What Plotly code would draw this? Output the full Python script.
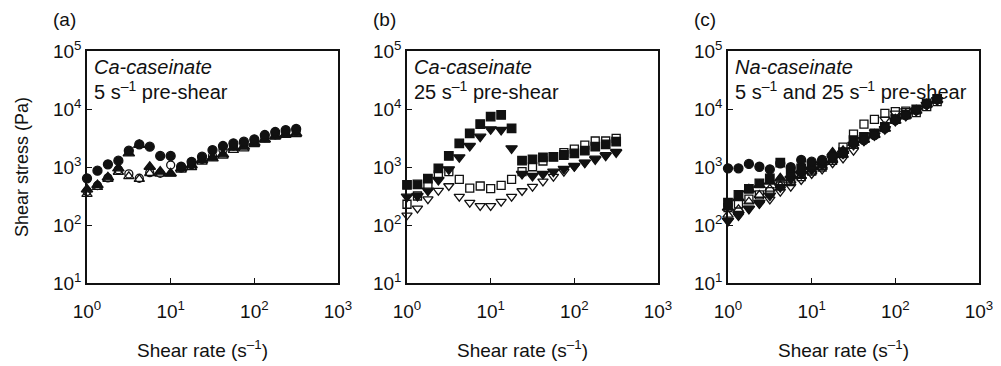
import plotly.graph_objects as go

# shear rates: 8 points per decade from 1 to ~316 s^-1
shear_rate = [1.0, 1.334, 1.778, 2.371, 3.162, 4.217, 5.623, 7.499, 10.0, 13.34, 17.78,
              23.71, 31.62, 42.17, 56.23, 74.99, 100.0, 133.4, 177.8, 237.1, 316.2]

# (a) Ca-caseinate, 5 s^-1 pre-shear
a_filled_circle = [638, 863, 1114, 1285, 1910, 2460, 2240, 1550, 1550, 1010, 1230, 1508, 1960, 2300, 2560, 2730, 3000, 3560, 4010, 4340, 4520]
a_open_circle = [380, 480, 650, 900, 760, 640, 800, 780, 1080, 960, 1100, 1350, 1550, 1960, 2300, 2500, 2800, 3200, 3600, 3950, 4150]
a_filled_tri = [412, 490, 664, 950, 1720, 2400, 1010, 830, 776, 950, 1080, 1320, 1410, 1655, 2150, 2240, 2620, 3000, 3420, 3700, 3800]
a_open_tri = [340, 450, 620, 820, 690, 620, 780, 760, 760, 890, 990, 1230, 1480, 1560, 1960, 2080, 2450, 2950, 3300, 3550, 3650]

# (b) Ca-caseinate, 25 s^-1 pre-shear
b_filled_square = [490, 500, 630, 950, 1550, 2560, 3800, 5500, 7380, 7890, 4650, 1285, 1357, 1470, 1500, 1610, 1720, 1910, 2240, 2460, 2730]
b_filled_tridown = [308, 316, 390, 597, 912, 1470, 2300, 3330, 4470, 4350, 2100, 757, 700, 757, 830, 925, 1040, 1190, 1357, 1570, 1790]
b_open_square = [228, 316, 470, 728, 830, 614, 434, 470, 423, 483, 614, 830, 1010, 1270, 1508, 1770, 2040, 2390, 2810, 2810, 3120]
b_open_tridown = [147, 194, 280, 390, 470, 308, 243, 213, 213, 252, 308, 386, 458, 566, 680, 830, 1010, 1190, 1410, 1610, 1840]

# (c) Na-caseinate, 5 s^-1 and 25 s^-1 pre-shear
c_filled_circle = [950, 950, 1130, 1010, 912, 1160, 990, 1320, 1235, 1320, 1510, 1720, 2560, 2900, 3560, 4650, 6460, 7880, 9620, 12200, 14800]
c_filled_square = [243, 330, 420, 520, 638, 1190, 800, 950, 1040, 1150, 1450, 1800, 2900, 3300, 3800, 4900, 6700, 8000, 9800, 12500, 15000]
c_filled_tri = [200, 290, 412, 490, 560, 638, 728, 880, 1000, 1200, 1770, 1900, 2600, 3000, 3600, 4600, 6300, 7700, 9400, 12000, 14500]
c_open_tri = [150, 187, 252, 329, 420, 480, 580, 700, 830, 1000, 1300, 1600, 2300, 2900, 3700, 5000, 6800, 8200, 9500, 11800, 14000]
c_open_square = [200, 230, 280, 330, 376, 470, 560, 680, 850, 1000, 1300, 2200, 3700, 5500, 6600, 8400, 9000, 9200, 8650, 11000, 13400]
c_open_tridown = [118, 143, 194, 230, 277, 376, 458, 597, 757, 912, 1160, 1410, 1910, 2800, 4000, 6640, 8420, 9250, 9500, 11500, 14000]
c_filled_tridown = [118, 150, 189, 240, 320, 450, 617, 750, 900, 1100, 1400, 1700, 2400, 2900, 3500, 4500, 6200, 7600, 9300, 11800, 14200]

x_tickvals = [1, 10, 100, 1000]
x_ticktext = ["10<sup>0</sup>", "10<sup>1</sup>", "10<sup>2</sup>", "10<sup>3</sup>"]
y_tickvals = [10, 100, 1000, 10000, 100000]
y_ticktext = ["10<sup>1</sup>", "10<sup>2</sup>", "10<sup>3</sup>", "10<sup>4</sup>", "10<sup>5</sup>"]

panel_labels = ["(a)", "(b)", "(c)"]
panel_titles = ["Ca-caseinate", "Ca-caseinate", "Na-caseinate"]
panel_sub = ["5 s<sup>–1</sup> pre-shear", "25 s<sup>–1</sup> pre-shear",
             "5 s<sup>–1</sup> and 25 s<sup>–1</sup> pre-shear"]
x_title = "Shear rate (s<sup>–1</sup>)"
y_title = "Shear stress (Pa)"

INK = "#111111"
FONT = "Liberation Sans, Arial, sans-serif"

sym_style = {
    "circle": dict(symbol="circle", size=9),
    "circle-open": dict(symbol="circle-open", size=8),
    "triangle-up": dict(symbol="triangle-up", size=10),
    "triangle-up-open": dict(symbol="triangle-up-open", size=9),
    "triangle-down": dict(symbol="triangle-down", size=10),
    "triangle-down-open": dict(symbol="triangle-down-open", size=9),
    "square": dict(symbol="square", size=8.5),
    "square-open": dict(symbol="square-open", size=8),
}

panels = [
    [(a_open_tri, "triangle-up-open"), (a_open_circle, "circle-open"),
     (a_filled_tri, "triangle-up"), (a_filled_circle, "circle")],
    [(b_open_tridown, "triangle-down-open"), (b_open_square, "square-open"),
     (b_filled_tridown, "triangle-down"), (b_filled_square, "square")],
    [(c_open_tridown, "triangle-down-open"), (c_open_tri, "triangle-up-open"),
     (c_open_square, "square-open"), (c_filled_tridown, "triangle-down"),
     (c_filled_tri, "triangle-up"), (c_filled_square, "square"),
     (c_filled_circle, "circle")],
]

# page body has an 8px default margin, so the figure is laid out 8px smaller/shifted
OFF = 8
W, H = 1001 - OFF, 366 - OFF
x_px = [(87 - OFF, 338 - OFF), (407 - OFF, 658 - OFF), (728 - OFF, 979 - OFF)]
y_top, y_bot = 51 - OFF, 283 - OFF
ydom = [(H - y_bot) / H, (H - y_top) / H]


def py(v):
    return (H - (v - OFF)) / H


fig = go.Figure()
layout = dict(
    width=W, height=H, margin=dict(l=0, r=0, t=0, b=0),
    paper_bgcolor="white", plot_bgcolor="white", showlegend=False,
    font=dict(family=FONT, size=19, color=INK),
)
annotations = []
for k, series in enumerate(panels):
    sfx = "" if k == 0 else str(k + 1)
    for vals, sym in series:
        st = sym_style[sym]
        fig.add_trace(go.Scatter(
            x=shear_rate, y=vals, mode="markers",
            xaxis="x" + sfx, yaxis="y" + sfx,
            marker=dict(symbol=st["symbol"], size=st["size"], color=INK,
                        line=dict(color=INK, width=1.3)),
            cliponaxis=False,
        ))
    x0, x1 = x_px[k]
    layout["xaxis" + sfx] = dict(
        type="log", range=[0, 3], domain=[x0 / W, x1 / W], anchor="y" + sfx,
        tickvals=x_tickvals, ticktext=x_ticktext, ticks="inside", ticklen=5,
        tickwidth=1.3, tickcolor=INK, showline=True, linecolor=INK, linewidth=1.5,
        mirror=True, showgrid=False, zeroline=False, ticklabelstandoff=10,
        tickfont=dict(family=FONT, size=19, color=INK), automargin=False,
    )
    layout["yaxis" + sfx] = dict(
        type="log", range=[1, 5], domain=ydom, anchor="x" + sfx,
        tickvals=y_tickvals, ticktext=y_ticktext, ticks="inside", ticklen=5,
        tickwidth=1.3, tickcolor=INK, showline=True, linecolor=INK, linewidth=1.5,
        mirror=True, showgrid=False, zeroline=False,
        tickfont=dict(family=FONT, size=19, color=INK), automargin=False,
    )
    annotations.append(dict(text=panel_labels[k], x=(x0 - 36) / W, y=py(20),
                            xref="paper", yref="paper", showarrow=False,
                            xanchor="left", yanchor="middle",
                            font=dict(family=FONT, size=19, color=INK)))
    annotations.append(dict(text="<i>" + panel_titles[k] + "</i>", x=(x0 + 5) / W,
                            y=py(67), xref="paper", yref="paper", showarrow=False,
                            xanchor="left", yanchor="middle",
                            font=dict(family=FONT, size=20, color=INK)))
    annotations.append(dict(text=panel_sub[k], x=(x0 + 5) / W, y=py(90),
                            xref="paper", yref="paper", showarrow=False,
                            xanchor="left", yanchor="middle",
                            font=dict(family=FONT, size=20, color=INK)))
    annotations.append(dict(text=x_title, x=((x0 + x1) / 2 - 10) / W, y=py(349),
                            xref="paper", yref="paper", showarrow=False,
                            xanchor="center", yanchor="middle",
                            font=dict(family=FONT, size=19, color=INK)))

annotations.append(dict(text=y_title, x=(22 - OFF) / W, y=py(167), xref="paper", yref="paper",
                        showarrow=False, textangle=-90, xanchor="center", yanchor="middle",
                        font=dict(family=FONT, size=18, color=INK)))
layout["annotations"] = annotations
fig.update_layout(**layout)
fig.write_html("out.html")
